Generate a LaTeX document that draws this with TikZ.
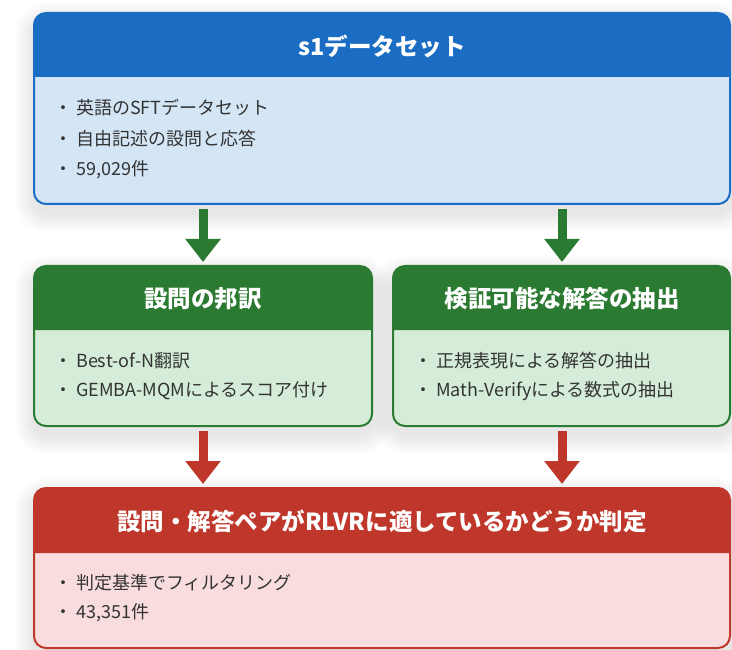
\documentclass[tikz,border=0pt]{standalone}
\usepackage{fontspec}
\setmainfont{Noto Sans CJK JP}
\usetikzlibrary{arrows.meta}
\definecolor{bluehdr}{HTML}{1A6DC2}
\definecolor{bluebody}{HTML}{D4E6F6}
\definecolor{greenhdr}{HTML}{2B7A31}
\definecolor{greenbody}{HTML}{D5EDD8}
\definecolor{redhdr}{HTML}{BF372A}
\definecolor{redbody}{HTML}{F9DCDD}
\definecolor{txt}{HTML}{333333}
\tikzset{
  titletext/.style={text=white, font=\fontsize{23.5}{28}\selectfont\bfseries, inner sep=0pt},
  itemtext/.style={text=txt, font=\fontsize{18}{22}\selectfont, inner sep=0pt, anchor=west},
  greenarrow/.style={draw=greenhdr, line width=9pt, -{Triangle[width=34pt,length=23pt]}},
  redarrow/.style={draw=redhdr, line width=9pt, -{Triangle[width=34pt,length=23pt]}},
}
% #1 x1, #2 y top, #3 y header bottom, #4 y bottom, #5 x2, #6 header colour, #7 body colour
\newcommand\flowbox[7]{%
  \foreach \e in {2,4.5,7,9.5,12,14.5,17,19.5}{%
    \fill[black, opacity=0.01, rounded corners=14pt+\e pt]
      (#1-\e, -#2+\e-9) rectangle (#5+\e, -#4-\e-9);
  }
  \fill[#7, rounded corners=12pt] (#1,-#2) rectangle (#5,-#4);
  \fill[#6] (#1,-#3) [rounded corners=12pt] -- (#1,-#2) -- (#5,-#2) [sharp corners] -- (#5,-#3) -- cycle;
  \draw[#6, line width=2pt, rounded corners=12pt] (#1,-#2) rectangle (#5,-#4);
}
\begin{document}
\begin{tikzpicture}[x=1pt,y=1pt]
\useasboundingbox (0,0) rectangle (732,-650);
\fill[white] (0,0) rectangle (732,-650);

% boxes
\flowbox{34}{13}{77}{204}{730}{bluehdr}{bluebody}
\flowbox{34}{266}{330}{426}{372}{greenhdr}{greenbody}
\flowbox{393}{266}{330}{426}{730}{greenhdr}{greenbody}
\flowbox{34}{488}{553}{648}{730}{redhdr}{redbody}

% top box
\node[titletext] (t1) at (382,-46) {s1データセット};
\node[itemtext] (t1a) at (54,-108) {・\hspace{4pt}英語のSFTデータセット};
\node[itemtext] (t1b) at (54,-139) {・\hspace{4pt}自由記述の設問と応答};
\node[itemtext] (t1c) at (54,-170) {・\hspace{4pt}59,029件};

% middle left
\node[titletext] (t2) at (203,-299) {設問の邦訳};
\node[itemtext] (t2a) at (54,-361) {・\hspace{4pt}Best-of-N翻訳};
\node[itemtext] (t2b) at (54,-391) {・\hspace{4pt}GEMBA-MQMによるスコア付け};

% middle right
\node[titletext] (t3) at (562,-299) {検証可能な解答の抽出};
\node[itemtext] (t3a) at (414,-361) {・\hspace{4pt}正規表現による解答の抽出};
\node[itemtext] (t3b) at (414,-391) {・\hspace{4pt}Math-Verifyによる数式の抽出};

% bottom
\node[titletext] (t4) at (382,-521) {設問・解答ペアがRLVRに適しているかどうか判定};
\node[itemtext] (t4a) at (54,-583) {・\hspace{4pt}判定基準でフィルタリング};
\node[itemtext] (t4b) at (54,-613) {・\hspace{4pt}43,351件};

% arrows
\coordinate (g1s) at (203,-209);
\coordinate (g1e) at (203,-262);
\coordinate (g2s) at (562,-209);
\coordinate (g2e) at (562,-262);
\coordinate (r1s) at (203,-431);
\coordinate (r1e) at (203,-484);
\coordinate (r2s) at (562,-431);
\coordinate (r2e) at (562,-484);
\draw[greenarrow] (g1s) -- (g1e);
\draw[greenarrow] (g2s) -- (g2e);
\draw[redarrow] (r1s) -- (r1e);
\draw[redarrow] (r2s) -- (r2e);
\end{tikzpicture}
\end{document}
